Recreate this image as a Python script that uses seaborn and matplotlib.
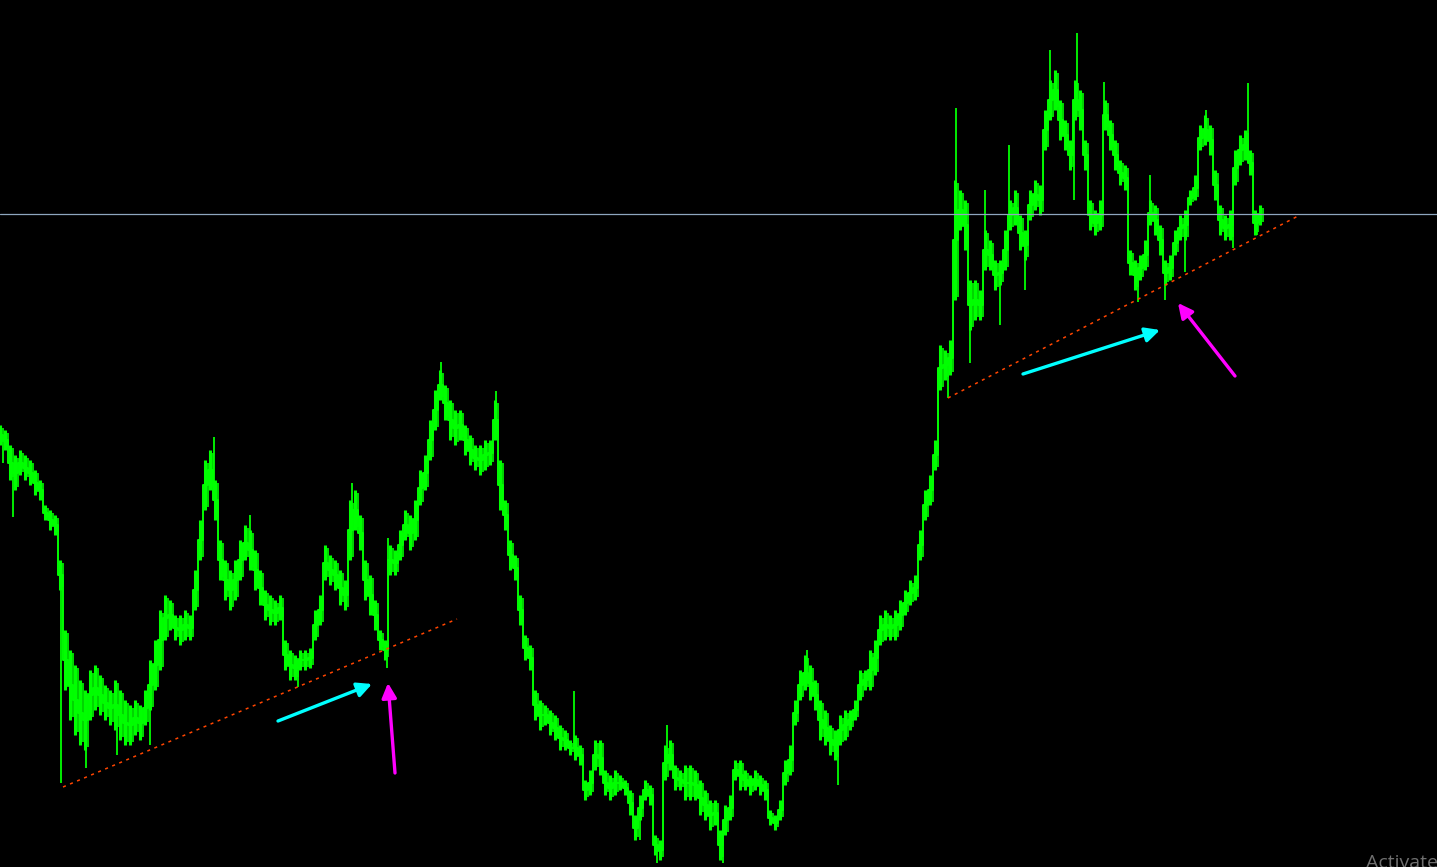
import numpy as np
import pandas as pd
import seaborn as sns
import matplotlib.pyplot as plt

# chart is in screen units: x = bar position, y = price level measured from the top
bar_x = list(range(0, 1265, 5))

bar_high = [
    425, 430, 445, 455, 450, 455, 460, 470, 480, 505, 510, 515,
    560, 630, 650, 665, 680, 690, 670, 665, 675, 685, 690, 680,
    690, 700, 705, 700, 705, 690, 660, 640, 610, 595, 600, 615,
    615, 610, 615, 570, 520, 460, 450, 480, 540, 560, 570, 560,
    540, 525, 530, 550, 570, 590, 595, 600, 595, 640, 650, 655,
    650, 650, 648, 610, 595, 545, 555, 560, 570, 580, 500, 490,
    515, 560, 575, 600, 630, 640, 545, 550, 530, 510, 515, 500,
    470, 455, 420, 390, 370, 385, 400, 410, 410, 425, 435, 445,
    445, 440, 440, 400, 460, 500, 540, 555, 595, 635, 645, 690,
    700, 705, 710, 715, 725, 730, 740, 735, 745, 780, 770, 740,
    740, 770, 775, 770, 775, 780, 790, 815, 795, 780, 785, 835,
    840, 745, 740, 765, 770, 765, 765, 770, 780, 790, 800, 800,
    830, 805, 795, 760, 760, 770, 775, 770, 775, 780, 810, 815,
    800, 760, 745, 700, 670, 655, 665, 680, 700, 710, 725, 730,
    715, 710, 710, 700, 670, 670, 650, 640, 615, 610, 615, 610,
    600, 590, 580, 575, 530, 490, 475, 440, 345, 350, 340, 180,
    190, 200, 280, 280, 290, 230, 240, 260, 260, 230, 200, 190,
    215, 230, 190, 180, 185, 110, 80, 70, 100, 120, 140, 80,
    90, 140, 200, 210, 200, 100, 120, 140, 160, 165, 250, 260,
    255, 240, 200, 205, 225, 260, 255, 230, 215, 210, 190, 175,
    125, 115, 125, 170, 205, 215, 210, 150, 135, 130, 150, 210,
    205,
]

bar_low = [
    445, 450, 480, 490, 475, 480, 485, 495, 500, 520, 530, 535,
    590, 690, 720, 735, 745, 750, 720, 710, 715, 720, 725, 730,
    740, 745, 745, 735, 740, 725, 710, 690, 670, 640, 630, 640,
    645, 640, 640, 610, 560, 510, 490, 520, 580, 600, 610, 600,
    580, 560, 570, 590, 605, 620, 625, 625, 620, 670, 680, 680,
    670, 670, 668, 640, 625, 580, 585, 590, 605, 610, 560, 530,
    550, 600, 615, 630, 650, 660, 575, 575, 560, 540, 550, 540,
    505, 490, 460, 430, 400, 420, 440, 445, 440, 455, 465, 470,
    475, 470, 465, 440, 510, 530, 570, 580, 625, 660, 670, 720,
    730, 725, 735, 740, 750, 750, 755, 760, 765, 800, 795, 770,
    775, 795, 800, 795, 790, 795, 815, 840, 820, 800, 805, 855,
    860, 780, 770, 790, 790, 800, 800, 800, 815, 820, 830, 825,
    860, 835, 820, 780, 790, 790, 795, 790, 795, 800, 825, 830,
    820, 785, 775, 725, 700, 690, 700, 710, 740, 745, 755, 760,
    745, 740, 730, 720, 700, 690, 690, 675, 645, 640, 640, 640,
    630, 615, 605, 600, 560, 520, 505, 470, 390, 380, 375, 300,
    230, 250, 330, 320, 320, 270, 270, 290, 285, 270, 230, 225,
    250, 260, 220, 210, 215, 150, 120, 110, 140, 150, 170, 120,
    130, 170, 230, 235, 230, 130, 150, 170, 185, 190, 275, 290,
    280, 270, 225, 235, 255, 285, 280, 255, 240, 240, 205, 200,
    150, 145, 155, 200, 235, 240, 240, 185, 165, 160, 175, 235,
    225,
]

# single-bar wicks that reach past the body
spike_x = [3, 13, 61, 86, 117, 150, 214, 250, 298, 352, 387, 388, 441, 496,
           574, 640, 657, 667, 723, 807, 838, 938, 948, 956, 970, 985, 1000,
           1009, 1025, 1050, 1074, 1077, 1104, 1138, 1150, 1165, 1185, 1206,
           1233, 1248, 1257]
spike_y = [463, 517, 783, 768, 755, 745, 437, 515, 687, 483, 668, 538, 362, 391,
           691, 840, 863, 725, 863, 650, 785, 420, 398, 108, 363, 190, 325,
           145, 290, 50, 200, 33, 82, 302, 175, 300, 272, 110, 248, 83, 235]

level_y = 214
trend_x = [[63, 457], [948, 1300]]
trend_y = [[787, 619], [398, 215]]
cyan_arrows = [((278, 721), (372, 684)), ((1023, 374), (1160, 330))]
magenta_arrows = [((395, 773), (388, 683)), ((1235, 376), (1178, 303))]

df = pd.DataFrame({"x": bar_x, "high": bar_high, "low": bar_low})
df["mid"] = (df["high"] + df["low"]) / 2

sns.set_style("dark", {"axes.facecolor": "black", "figure.facecolor": "black"})
plt.rcParams['font.family'] = ['Open Sans', 'DejaVu Sans']

fig = plt.figure(figsize=(14.37, 8.67), dpi=100)
ax = fig.add_axes([0, 0, 1, 1])
ax.set_facecolor("black")

green = "#00ff00"
# bodies as thin bars, joined by a stepped close line
ax.vlines(df["x"], df["high"], df["low"], color=green, lw=2.2)
ax.vlines(df["x"] + 2.5, df["high"] + 3, df["low"] - 3, color=green, lw=1.2)
sns.lineplot(data=df, x="x", y="mid", ax=ax, color=green, lw=1.4,
             drawstyle="steps-mid", estimator=None)

# wicks: from the body of the nearest bar out to the extreme
for sx, sy in zip(spike_x, spike_y):
    i = int(np.argmin(np.abs(df["x"].values - sx)))
    ax.vlines(sx, df["mid"].iloc[i], sy, color=green, lw=1.3)

ax.axhline(level_y, color="#8ea6be", lw=0.9)

for tx, ty in zip(trend_x, trend_y):
    ax.plot(tx, ty, color="#ff4500", lw=1.1, linestyle=(0, (2, 3)))

for (x0, y0), (x1, y1) in cyan_arrows:
    ax.annotate("", xy=(x1, y1), xytext=(x0, y0),
                arrowprops=dict(arrowstyle="-|>", color="#00ffff", lw=2.4,
                                mutation_scale=22, shrinkA=0, shrinkB=0))
for (x0, y0), (x1, y1) in magenta_arrows:
    ax.annotate("", xy=(x1, y1), xytext=(x0, y0),
                arrowprops=dict(arrowstyle="-|>", color="#ff00ff", lw=2.4,
                                mutation_scale=22, shrinkA=0, shrinkB=0))

# watermark, cut off by the right edge as on screen
ax.text(1366, 854, "Activate Windows", color="#6f6f6f", fontsize=14,
        va="top", ha="left")

ax.set_xlim(0, 1437)
ax.set_ylim(867, 0)
ax.axis("off")

fig.savefig("out.png", dpi=100, facecolor="black")
